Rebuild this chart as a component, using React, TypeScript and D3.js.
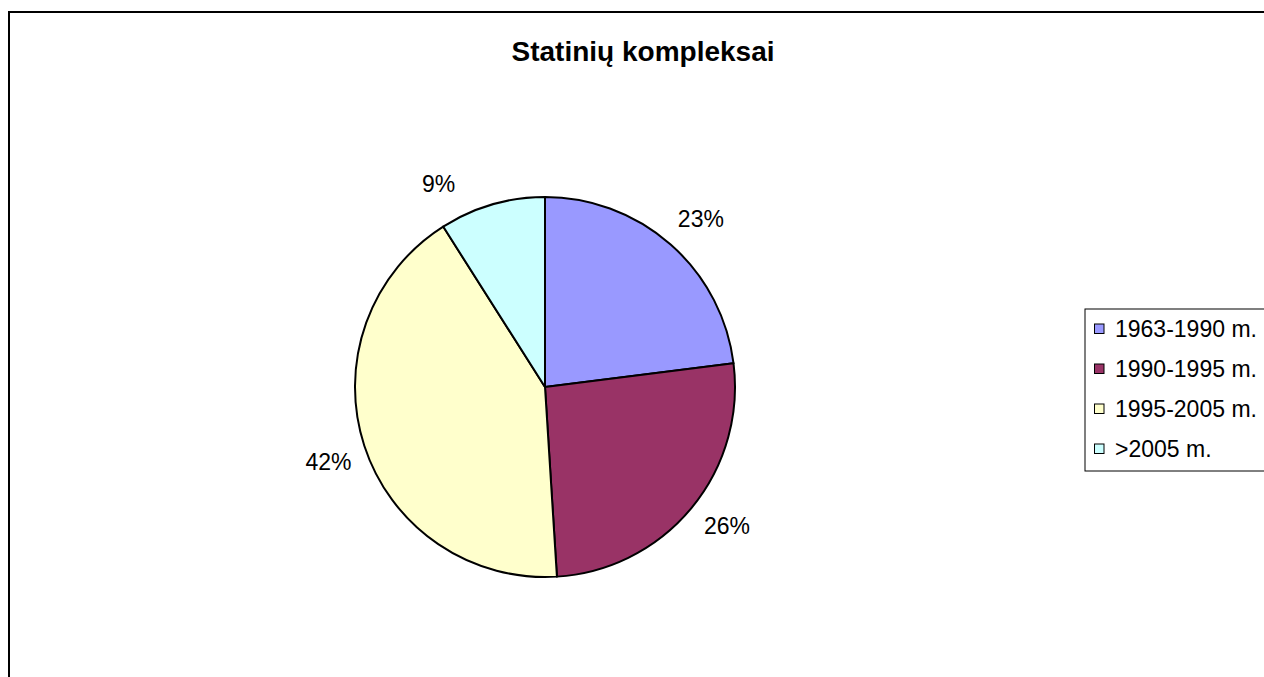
import React from "react";
import * as d3 from "d3";

const categories = ["1963-1990 m.", "1990-1995 m.", "1995-2005 m.", ">2005 m."];
const values = [23, 26, 42, 9];
const labels = ["23%", "26%", "42%", "9%"];
const colors = ["#9999FF", "#993366", "#FFFFCC", "#CCFFFF"];
// angular nudge (degrees) of each data label from its slice mid-angle
const labelNudge = [1.5, -2.2, -1, -11.5];
const title = "Statinių kompleksai";

const W = 1264;
const H = 677;
const cx = 545;
const cy = 387;
const R = 190;
const labelR = 229;
const font = "'Liberation Sans', Arial, sans-serif";

export default function App() {
  const pie = d3.pie<number>().sort(null).value((d) => d)(values);
  const arc = d3.arc<d3.PieArcDatum<number>>().innerRadius(0).outerRadius(R);

  const legX = 1085;
  const legY = 309;
  const rowH = 40;
  const firstRow = 328.5;

  return (
    <svg
      width={W}
      height={H}
      style={{ position: "absolute", left: 0, top: 0, background: "#fff" }}
    >
      <rect x={9} y={12} width={1300} height={760} fill="#fff" stroke="#000" strokeWidth={2} />
      <text x={643} y={61} textAnchor="middle" fontFamily={font} fontWeight="bold" fontSize={28}>
        {title}
      </text>
      <g transform={`translate(${cx},${cy})`}>
        {pie.map((d, i) => (
          <path key={i} d={arc(d) || ""} fill={colors[i]} stroke="#000" strokeWidth={2} strokeLinejoin="round" />
        ))}
        {pie.map((d, i) => {
          const a = (d.startAngle + d.endAngle) / 2 + (labelNudge[i] * Math.PI) / 180;
          const x = labelR * Math.sin(a);
          const y = -labelR * Math.cos(a);
          return (
            <text key={i} x={x} y={y} textAnchor="middle" dominantBaseline="central" fontFamily={font} fontSize={23}>
              {labels[i]}
            </text>
          );
        })}
      </g>
      <rect x={legX} y={legY} width={200} height={rowH * 4 + 2} fill="#fff" stroke="#000" strokeWidth={1} />
      {categories.map((c, i) => {
        const y = firstRow + i * rowH;
        return (
          <g key={c}>
            <rect x={legX + 9.5} y={y - 4.5} width={9.5} height={9.5} fill={colors[i]} stroke="#000" strokeWidth={1} />
            <text x={legX + 30} y={y} dominantBaseline="central" fontFamily={font} fontSize={23}>
              {c}
            </text>
          </g>
        );
      })}
    </svg>
  );
}
